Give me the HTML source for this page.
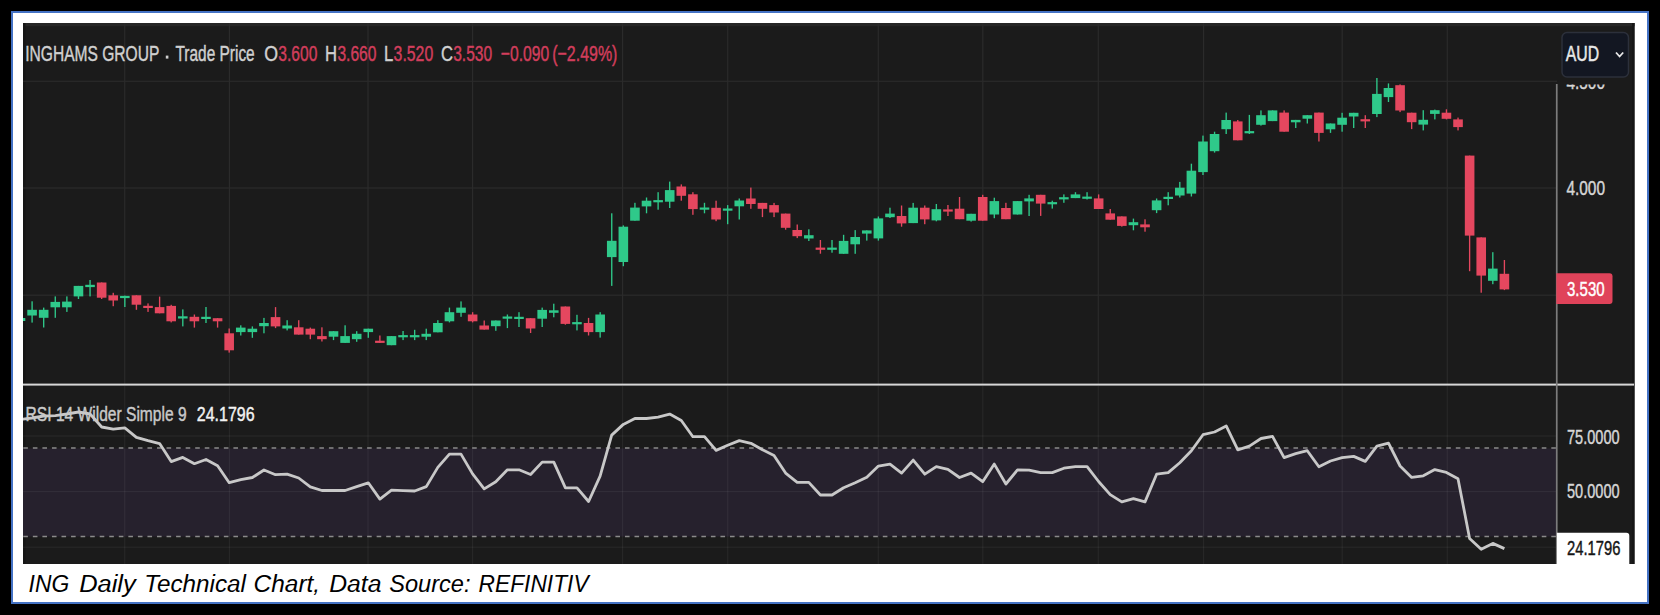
<!DOCTYPE html>
<html><head><meta charset="utf-8"><title>ING Daily Technical Chart</title>
<style>
html,body{margin:0;padding:0;background:#000;width:1660px;height:615px;overflow:hidden}
svg{position:absolute;left:0;top:0;display:block}
text{font-family:"Liberation Sans",sans-serif}
</style></head><body>
<svg width="1660" height="615" viewBox="0 0 1660 615">
<defs><clipPath id="plot"><rect x="23" y="23" width="1534" height="361"/></clipPath><clipPath id="rsi"><rect x="23" y="386" width="1534" height="178"/></clipPath><clipPath id="below83"><rect x="1557" y="84.6" width="80" height="20"/></clipPath></defs>
<rect x="0" y="0" width="1660" height="615" fill="#000"/>
<rect x="12" y="12" width="1636" height="591" fill="#fff" stroke="#4472c4" stroke-width="2"/>
<rect x="23" y="23" width="1611.5" height="541" fill="#1b1b1b"/>
<rect x="23" y="23" width="1611.5" height="3.3" fill="#262626"/>
<rect x="23" y="23" width="2.5" height="541" fill="#161616"/>
<rect x="1632" y="23" width="2.5" height="541" fill="#161616"/>
<rect x="23" y="448.4" width="1534" height="88.2" fill="#26212d"/>
<rect x="23" y="80.7" width="1534" height="1.2" fill="#2b2b2b"/>
<rect x="23" y="187.4" width="1534" height="1.2" fill="#2b2b2b"/>
<rect x="23" y="294.6" width="1534" height="1.2" fill="#2b2b2b"/>
<rect x="23" y="435.4" width="1534" height="1.2" fill="#ffffff" fill-opacity="0.055"/>
<rect x="23" y="491.0" width="1534" height="1.2" fill="#ffffff" fill-opacity="0.055"/>
<rect x="23" y="546.6" width="1534" height="1.2" fill="#ffffff" fill-opacity="0.055"/>
<rect x="124.1" y="23" width="1.2" height="361" fill="#2b2b2b"/>
<rect x="124.1" y="386" width="1.2" height="178" fill="#ffffff" fill-opacity="0.055"/>
<rect x="228.8" y="23" width="1.2" height="361" fill="#2b2b2b"/>
<rect x="228.8" y="386" width="1.2" height="178" fill="#ffffff" fill-opacity="0.055"/>
<rect x="367.4" y="23" width="1.2" height="361" fill="#2b2b2b"/>
<rect x="367.4" y="386" width="1.2" height="178" fill="#ffffff" fill-opacity="0.055"/>
<rect x="472.0" y="23" width="1.2" height="361" fill="#2b2b2b"/>
<rect x="472.0" y="386" width="1.2" height="178" fill="#ffffff" fill-opacity="0.055"/>
<rect x="622.0" y="23" width="1.2" height="361" fill="#2b2b2b"/>
<rect x="622.0" y="386" width="1.2" height="178" fill="#ffffff" fill-opacity="0.055"/>
<rect x="727.1" y="23" width="1.2" height="361" fill="#2b2b2b"/>
<rect x="727.1" y="386" width="1.2" height="178" fill="#ffffff" fill-opacity="0.055"/>
<rect x="877.7" y="23" width="1.2" height="361" fill="#2b2b2b"/>
<rect x="877.7" y="386" width="1.2" height="178" fill="#ffffff" fill-opacity="0.055"/>
<rect x="982.2" y="23" width="1.2" height="361" fill="#2b2b2b"/>
<rect x="982.2" y="386" width="1.2" height="178" fill="#ffffff" fill-opacity="0.055"/>
<rect x="1097.7" y="23" width="1.2" height="361" fill="#2b2b2b"/>
<rect x="1097.7" y="386" width="1.2" height="178" fill="#ffffff" fill-opacity="0.055"/>
<rect x="1203.0" y="23" width="1.2" height="361" fill="#2b2b2b"/>
<rect x="1203.0" y="386" width="1.2" height="178" fill="#ffffff" fill-opacity="0.055"/>
<rect x="1341.6" y="23" width="1.2" height="361" fill="#2b2b2b"/>
<rect x="1341.6" y="386" width="1.2" height="178" fill="#ffffff" fill-opacity="0.055"/>
<rect x="1446.7" y="23" width="1.2" height="361" fill="#2b2b2b"/>
<rect x="1446.7" y="386" width="1.2" height="178" fill="#ffffff" fill-opacity="0.055"/>
<line x1="23.3" y1="447.9" x2="1557" y2="447.9" stroke="#8a8a8a" stroke-width="1.5" stroke-dasharray="4.6 4.95"/>
<line x1="23.3" y1="536.6" x2="1557" y2="536.6" stroke="#8a8a8a" stroke-width="1.5" stroke-dasharray="4.6 4.95"/>
<g clip-path="url(#plot)">
<rect x="19.82" y="316.0" width="1.35" height="7.0" fill="#2fc98a"/>
<rect x="15.70" y="318.0" width="9.6" height="3.0" fill="#2fc98a"/>
<rect x="31.42" y="301.3" width="1.35" height="21.3" fill="#2fc98a"/>
<rect x="27.29" y="309.8" width="9.6" height="5.7" fill="#2fc98a"/>
<rect x="43.01" y="307.6" width="1.35" height="19.9" fill="#2fc98a"/>
<rect x="38.89" y="309.8" width="9.6" height="8.0" fill="#2fc98a"/>
<rect x="54.60" y="296.4" width="1.35" height="21.4" fill="#2fc98a"/>
<rect x="50.48" y="301.9" width="9.6" height="5.4" fill="#2fc98a"/>
<rect x="66.20" y="296.4" width="1.35" height="15.5" fill="#2fc98a"/>
<rect x="62.07" y="301.6" width="9.6" height="5.7" fill="#2fc98a"/>
<rect x="77.79" y="285.9" width="1.35" height="13.1" fill="#2fc98a"/>
<rect x="73.67" y="285.9" width="9.6" height="10.5" fill="#2fc98a"/>
<rect x="89.38" y="280.0" width="1.35" height="16.4" fill="#2fc98a"/>
<rect x="85.26" y="284.8" width="9.6" height="2.3" fill="#2fc98a"/>
<rect x="100.98" y="282.5" width="1.35" height="16.5" fill="#e5475f"/>
<rect x="96.85" y="282.5" width="9.6" height="15.2" fill="#e5475f"/>
<rect x="112.57" y="292.8" width="1.35" height="13.4" fill="#e5475f"/>
<rect x="108.44" y="295.3" width="9.6" height="5.2" fill="#e5475f"/>
<rect x="124.16" y="295.6" width="1.35" height="11.4" fill="#2fc98a"/>
<rect x="120.04" y="295.9" width="9.6" height="2.2" fill="#2fc98a"/>
<rect x="135.75" y="295.3" width="1.35" height="14.5" fill="#e5475f"/>
<rect x="131.63" y="295.3" width="9.6" height="9.4" fill="#e5475f"/>
<rect x="147.35" y="303.4" width="1.35" height="8.5" fill="#e5475f"/>
<rect x="143.22" y="305.8" width="9.6" height="2.2" fill="#e5475f"/>
<rect x="158.94" y="296.6" width="1.35" height="16.7" fill="#e5475f"/>
<rect x="154.82" y="307.1" width="9.6" height="6.2" fill="#e5475f"/>
<rect x="170.53" y="304.8" width="1.35" height="17.6" fill="#e5475f"/>
<rect x="166.41" y="305.9" width="9.6" height="15.4" fill="#e5475f"/>
<rect x="182.13" y="309.4" width="1.35" height="17.0" fill="#2fc98a"/>
<rect x="178.00" y="316.3" width="9.6" height="2.2" fill="#2fc98a"/>
<rect x="193.72" y="314.5" width="1.35" height="13.1" fill="#e5475f"/>
<rect x="189.59" y="316.8" width="9.6" height="4.5" fill="#e5475f"/>
<rect x="205.31" y="307.0" width="1.35" height="16.0" fill="#2fc98a"/>
<rect x="201.19" y="316.8" width="9.6" height="2.2" fill="#2fc98a"/>
<rect x="216.91" y="318.2" width="1.35" height="9.4" fill="#e5475f"/>
<rect x="212.78" y="318.2" width="9.6" height="3.1" fill="#e5475f"/>
<rect x="228.50" y="328.5" width="1.35" height="24.1" fill="#e5475f"/>
<rect x="224.37" y="333.3" width="9.6" height="17.0" fill="#e5475f"/>
<rect x="240.09" y="325.3" width="1.35" height="10.2" fill="#2fc98a"/>
<rect x="235.97" y="327.6" width="9.6" height="4.5" fill="#2fc98a"/>
<rect x="251.69" y="326.4" width="1.35" height="11.4" fill="#2fc98a"/>
<rect x="247.56" y="328.7" width="9.6" height="3.4" fill="#2fc98a"/>
<rect x="263.28" y="317.9" width="1.35" height="15.4" fill="#2fc98a"/>
<rect x="259.15" y="323.0" width="9.6" height="3.2" fill="#2fc98a"/>
<rect x="274.87" y="307.1" width="1.35" height="21.0" fill="#e5475f"/>
<rect x="270.75" y="317.1" width="9.6" height="9.3" fill="#e5475f"/>
<rect x="286.46" y="320.2" width="1.35" height="10.2" fill="#2fc98a"/>
<rect x="282.34" y="325.5" width="9.6" height="3.0" fill="#2fc98a"/>
<rect x="298.06" y="320.2" width="1.35" height="14.4" fill="#e5475f"/>
<rect x="293.93" y="327.3" width="9.6" height="7.3" fill="#e5475f"/>
<rect x="309.65" y="327.6" width="1.35" height="11.6" fill="#e5475f"/>
<rect x="305.52" y="328.7" width="9.6" height="5.9" fill="#e5475f"/>
<rect x="321.24" y="327.3" width="1.35" height="14.2" fill="#e5475f"/>
<rect x="317.12" y="336.1" width="9.6" height="3.1" fill="#e5475f"/>
<rect x="332.84" y="331.2" width="1.35" height="8.9" fill="#2fc98a"/>
<rect x="328.71" y="331.2" width="9.6" height="5.5" fill="#2fc98a"/>
<rect x="344.43" y="325.3" width="1.35" height="17.6" fill="#2fc98a"/>
<rect x="340.30" y="336.1" width="9.6" height="6.8" fill="#2fc98a"/>
<rect x="356.02" y="331.2" width="1.35" height="10.6" fill="#2fc98a"/>
<rect x="351.90" y="333.8" width="9.6" height="5.4" fill="#2fc98a"/>
<rect x="367.62" y="328.7" width="1.35" height="9.1" fill="#2fc98a"/>
<rect x="363.49" y="328.7" width="9.6" height="3.4" fill="#2fc98a"/>
<rect x="379.21" y="335.5" width="1.35" height="7.4" fill="#e5475f"/>
<rect x="375.08" y="340.7" width="9.6" height="2.2" fill="#e5475f"/>
<rect x="390.80" y="336.1" width="1.35" height="9.1" fill="#2fc98a"/>
<rect x="386.68" y="336.1" width="9.6" height="9.1" fill="#2fc98a"/>
<rect x="402.39" y="331.0" width="1.35" height="9.1" fill="#2fc98a"/>
<rect x="398.27" y="335.1" width="9.6" height="2.2" fill="#2fc98a"/>
<rect x="413.99" y="329.8" width="1.35" height="10.3" fill="#2fc98a"/>
<rect x="409.86" y="335.1" width="9.6" height="2.2" fill="#2fc98a"/>
<rect x="425.58" y="328.7" width="1.35" height="11.4" fill="#2fc98a"/>
<rect x="421.45" y="333.8" width="9.6" height="2.9" fill="#2fc98a"/>
<rect x="437.17" y="320.2" width="1.35" height="12.1" fill="#2fc98a"/>
<rect x="433.05" y="323.0" width="9.6" height="9.3" fill="#2fc98a"/>
<rect x="448.77" y="307.6" width="1.35" height="14.8" fill="#2fc98a"/>
<rect x="444.64" y="312.2" width="9.6" height="9.1" fill="#2fc98a"/>
<rect x="460.36" y="301.4" width="1.35" height="15.4" fill="#2fc98a"/>
<rect x="456.23" y="307.6" width="9.6" height="5.2" fill="#2fc98a"/>
<rect x="471.95" y="312.2" width="1.35" height="10.2" fill="#e5475f"/>
<rect x="467.83" y="314.5" width="9.6" height="6.8" fill="#e5475f"/>
<rect x="483.55" y="320.5" width="1.35" height="9.1" fill="#e5475f"/>
<rect x="479.42" y="325.5" width="9.6" height="4.1" fill="#e5475f"/>
<rect x="495.14" y="320.5" width="1.35" height="10.3" fill="#2fc98a"/>
<rect x="491.01" y="320.5" width="9.6" height="5.7" fill="#2fc98a"/>
<rect x="506.73" y="314.5" width="1.35" height="13.6" fill="#2fc98a"/>
<rect x="502.61" y="316.5" width="9.6" height="2.2" fill="#2fc98a"/>
<rect x="518.32" y="312.2" width="1.35" height="14.8" fill="#2fc98a"/>
<rect x="514.20" y="316.8" width="9.6" height="2.2" fill="#2fc98a"/>
<rect x="529.92" y="318.2" width="1.35" height="14.8" fill="#e5475f"/>
<rect x="525.79" y="318.2" width="9.6" height="10.3" fill="#e5475f"/>
<rect x="541.51" y="307.6" width="1.35" height="19.4" fill="#2fc98a"/>
<rect x="537.38" y="309.9" width="9.6" height="8.8" fill="#2fc98a"/>
<rect x="553.10" y="303.7" width="1.35" height="13.6" fill="#2fc98a"/>
<rect x="548.98" y="310.3" width="9.6" height="2.5" fill="#2fc98a"/>
<rect x="564.70" y="306.5" width="1.35" height="18.2" fill="#e5475f"/>
<rect x="560.57" y="306.5" width="9.6" height="17.4" fill="#e5475f"/>
<rect x="576.29" y="314.8" width="1.35" height="15.6" fill="#2fc98a"/>
<rect x="572.16" y="322.1" width="9.6" height="2.2" fill="#2fc98a"/>
<rect x="587.88" y="317.9" width="1.35" height="17.6" fill="#e5475f"/>
<rect x="583.76" y="323.0" width="9.6" height="9.1" fill="#e5475f"/>
<rect x="599.48" y="312.2" width="1.35" height="25.4" fill="#2fc98a"/>
<rect x="595.35" y="314.5" width="9.6" height="17.6" fill="#2fc98a"/>
<rect x="611.07" y="213.3" width="1.35" height="72.6" fill="#2fc98a"/>
<rect x="606.94" y="240.8" width="9.6" height="16.3" fill="#2fc98a"/>
<rect x="622.66" y="225.4" width="1.35" height="40.8" fill="#2fc98a"/>
<rect x="618.54" y="226.7" width="9.6" height="35.3" fill="#2fc98a"/>
<rect x="634.25" y="202.8" width="1.35" height="17.9" fill="#2fc98a"/>
<rect x="630.13" y="207.6" width="9.6" height="13.1" fill="#2fc98a"/>
<rect x="645.85" y="197.5" width="1.35" height="15.8" fill="#2fc98a"/>
<rect x="641.72" y="200.7" width="9.6" height="5.7" fill="#2fc98a"/>
<rect x="657.44" y="192.2" width="1.35" height="17.5" fill="#2fc98a"/>
<rect x="653.32" y="200.1" width="9.6" height="2.2" fill="#2fc98a"/>
<rect x="669.03" y="181.6" width="1.35" height="26.4" fill="#2fc98a"/>
<rect x="664.91" y="190.1" width="9.6" height="11.6" fill="#2fc98a"/>
<rect x="680.63" y="184.4" width="1.35" height="16.3" fill="#e5475f"/>
<rect x="676.50" y="186.5" width="9.6" height="9.3" fill="#e5475f"/>
<rect x="692.22" y="192.2" width="1.35" height="22.6" fill="#e5475f"/>
<rect x="688.09" y="194.3" width="9.6" height="14.8" fill="#e5475f"/>
<rect x="703.81" y="202.8" width="1.35" height="10.5" fill="#2fc98a"/>
<rect x="699.69" y="207.5" width="9.6" height="2.2" fill="#2fc98a"/>
<rect x="715.41" y="200.7" width="1.35" height="20.5" fill="#e5475f"/>
<rect x="711.28" y="207.8" width="9.6" height="11.7" fill="#e5475f"/>
<rect x="727.00" y="205.1" width="1.35" height="19.1" fill="#2fc98a"/>
<rect x="722.87" y="208.5" width="9.6" height="2.2" fill="#2fc98a"/>
<rect x="738.59" y="198.5" width="1.35" height="21.0" fill="#2fc98a"/>
<rect x="734.47" y="200.5" width="9.6" height="5.8" fill="#2fc98a"/>
<rect x="750.18" y="187.6" width="1.35" height="21.2" fill="#e5475f"/>
<rect x="746.06" y="198.5" width="9.6" height="5.5" fill="#e5475f"/>
<rect x="761.78" y="202.9" width="1.35" height="14.2" fill="#e5475f"/>
<rect x="757.65" y="202.9" width="9.6" height="5.9" fill="#e5475f"/>
<rect x="773.37" y="202.9" width="1.35" height="14.2" fill="#e5475f"/>
<rect x="769.25" y="205.1" width="9.6" height="7.4" fill="#e5475f"/>
<rect x="784.96" y="213.6" width="1.35" height="16.1" fill="#e5475f"/>
<rect x="780.84" y="213.6" width="9.6" height="14.2" fill="#e5475f"/>
<rect x="796.56" y="224.5" width="1.35" height="13.6" fill="#e5475f"/>
<rect x="792.43" y="230.0" width="9.6" height="6.2" fill="#e5475f"/>
<rect x="808.15" y="229.3" width="1.35" height="11.7" fill="#2fc98a"/>
<rect x="804.02" y="235.2" width="9.6" height="3.3" fill="#2fc98a"/>
<rect x="819.74" y="240.0" width="1.35" height="13.7" fill="#e5475f"/>
<rect x="815.62" y="247.6" width="9.6" height="2.2" fill="#e5475f"/>
<rect x="831.34" y="240.0" width="1.35" height="12.7" fill="#2fc98a"/>
<rect x="827.21" y="247.6" width="9.6" height="2.2" fill="#2fc98a"/>
<rect x="842.93" y="234.8" width="1.35" height="19.0" fill="#2fc98a"/>
<rect x="838.80" y="240.9" width="9.6" height="12.9" fill="#2fc98a"/>
<rect x="854.52" y="230.1" width="1.35" height="23.7" fill="#2fc98a"/>
<rect x="850.40" y="237.0" width="9.6" height="7.3" fill="#2fc98a"/>
<rect x="866.11" y="230.4" width="1.35" height="10.2" fill="#2fc98a"/>
<rect x="861.99" y="230.4" width="9.6" height="3.2" fill="#2fc98a"/>
<rect x="877.71" y="216.5" width="1.35" height="24.1" fill="#2fc98a"/>
<rect x="873.58" y="218.4" width="9.6" height="20.0" fill="#2fc98a"/>
<rect x="889.30" y="207.7" width="1.35" height="10.3" fill="#2fc98a"/>
<rect x="885.18" y="213.6" width="9.6" height="3.6" fill="#2fc98a"/>
<rect x="900.89" y="205.5" width="1.35" height="21.2" fill="#e5475f"/>
<rect x="896.77" y="216.0" width="9.6" height="7.4" fill="#e5475f"/>
<rect x="912.49" y="202.9" width="1.35" height="20.2" fill="#2fc98a"/>
<rect x="908.36" y="207.7" width="9.6" height="15.4" fill="#2fc98a"/>
<rect x="924.08" y="205.5" width="1.35" height="18.7" fill="#e5475f"/>
<rect x="919.95" y="207.7" width="9.6" height="11.7" fill="#e5475f"/>
<rect x="935.67" y="204.0" width="1.35" height="17.3" fill="#2fc98a"/>
<rect x="931.55" y="209.2" width="9.6" height="11.2" fill="#2fc98a"/>
<rect x="947.27" y="205.0" width="1.35" height="11.0" fill="#e5475f"/>
<rect x="943.14" y="209.4" width="9.6" height="2.2" fill="#e5475f"/>
<rect x="958.86" y="197.0" width="1.35" height="22.2" fill="#e5475f"/>
<rect x="954.73" y="208.7" width="9.6" height="10.5" fill="#e5475f"/>
<rect x="970.45" y="213.8" width="1.35" height="7.8" fill="#2fc98a"/>
<rect x="966.33" y="213.8" width="9.6" height="6.9" fill="#2fc98a"/>
<rect x="982.04" y="194.8" width="1.35" height="25.9" fill="#e5475f"/>
<rect x="977.92" y="197.0" width="9.6" height="23.7" fill="#e5475f"/>
<rect x="993.64" y="197.7" width="1.35" height="20.5" fill="#2fc98a"/>
<rect x="989.51" y="201.1" width="9.6" height="13.4" fill="#2fc98a"/>
<rect x="1005.23" y="202.8" width="1.35" height="16.4" fill="#e5475f"/>
<rect x="1001.11" y="208.0" width="9.6" height="11.2" fill="#e5475f"/>
<rect x="1016.82" y="201.1" width="1.35" height="13.4" fill="#2fc98a"/>
<rect x="1012.70" y="201.1" width="9.6" height="13.4" fill="#2fc98a"/>
<rect x="1028.42" y="194.8" width="1.35" height="21.2" fill="#2fc98a"/>
<rect x="1024.29" y="198.4" width="9.6" height="3.0" fill="#2fc98a"/>
<rect x="1040.01" y="194.8" width="1.35" height="21.1" fill="#e5475f"/>
<rect x="1035.88" y="194.8" width="9.6" height="8.8" fill="#e5475f"/>
<rect x="1051.60" y="200.7" width="1.35" height="7.9" fill="#2fc98a"/>
<rect x="1047.48" y="202.1" width="9.6" height="2.2" fill="#2fc98a"/>
<rect x="1063.19" y="194.4" width="1.35" height="8.4" fill="#2fc98a"/>
<rect x="1059.07" y="197.2" width="9.6" height="2.2" fill="#2fc98a"/>
<rect x="1074.79" y="192.2" width="1.35" height="5.9" fill="#2fc98a"/>
<rect x="1070.66" y="194.4" width="9.6" height="3.7" fill="#2fc98a"/>
<rect x="1086.38" y="192.2" width="1.35" height="7.3" fill="#2fc98a"/>
<rect x="1082.26" y="196.6" width="9.6" height="2.2" fill="#2fc98a"/>
<rect x="1097.97" y="194.4" width="1.35" height="14.6" fill="#e5475f"/>
<rect x="1093.85" y="198.4" width="9.6" height="10.6" fill="#e5475f"/>
<rect x="1109.57" y="209.0" width="1.35" height="10.7" fill="#e5475f"/>
<rect x="1105.44" y="213.4" width="9.6" height="6.3" fill="#e5475f"/>
<rect x="1121.16" y="216.4" width="1.35" height="10.2" fill="#e5475f"/>
<rect x="1117.04" y="216.4" width="9.6" height="9.5" fill="#e5475f"/>
<rect x="1132.75" y="218.6" width="1.35" height="11.7" fill="#2fc98a"/>
<rect x="1128.63" y="222.2" width="9.6" height="3.0" fill="#2fc98a"/>
<rect x="1144.35" y="219.3" width="1.35" height="12.4" fill="#e5475f"/>
<rect x="1140.22" y="224.4" width="9.6" height="2.9" fill="#e5475f"/>
<rect x="1155.94" y="198.5" width="1.35" height="14.6" fill="#2fc98a"/>
<rect x="1151.81" y="200.4" width="9.6" height="9.8" fill="#2fc98a"/>
<rect x="1167.53" y="192.2" width="1.35" height="13.1" fill="#2fc98a"/>
<rect x="1163.41" y="196.8" width="9.6" height="2.2" fill="#2fc98a"/>
<rect x="1179.12" y="181.9" width="1.35" height="15.6" fill="#2fc98a"/>
<rect x="1175.00" y="187.7" width="9.6" height="7.8" fill="#2fc98a"/>
<rect x="1190.72" y="163.7" width="1.35" height="32.8" fill="#2fc98a"/>
<rect x="1186.59" y="170.7" width="9.6" height="22.9" fill="#2fc98a"/>
<rect x="1202.31" y="135.6" width="1.35" height="39.4" fill="#2fc98a"/>
<rect x="1198.19" y="141.5" width="9.6" height="30.6" fill="#2fc98a"/>
<rect x="1213.90" y="131.7" width="1.35" height="20.9" fill="#2fc98a"/>
<rect x="1209.78" y="134.0" width="9.6" height="17.2" fill="#2fc98a"/>
<rect x="1225.50" y="112.6" width="1.35" height="21.4" fill="#2fc98a"/>
<rect x="1221.37" y="120.0" width="9.6" height="9.2" fill="#2fc98a"/>
<rect x="1237.09" y="120.0" width="1.35" height="20.3" fill="#e5475f"/>
<rect x="1232.97" y="121.4" width="9.6" height="18.9" fill="#e5475f"/>
<rect x="1248.68" y="114.9" width="1.35" height="19.1" fill="#2fc98a"/>
<rect x="1244.56" y="131.1" width="9.6" height="2.2" fill="#2fc98a"/>
<rect x="1260.28" y="110.4" width="1.35" height="15.2" fill="#2fc98a"/>
<rect x="1256.15" y="115.2" width="9.6" height="9.6" fill="#2fc98a"/>
<rect x="1271.87" y="110.4" width="1.35" height="10.7" fill="#2fc98a"/>
<rect x="1267.74" y="110.4" width="9.6" height="10.7" fill="#2fc98a"/>
<rect x="1283.46" y="110.4" width="1.35" height="21.3" fill="#e5475f"/>
<rect x="1279.34" y="112.6" width="9.6" height="19.1" fill="#e5475f"/>
<rect x="1295.06" y="119.9" width="1.35" height="8.1" fill="#2fc98a"/>
<rect x="1290.93" y="119.9" width="9.6" height="2.4" fill="#2fc98a"/>
<rect x="1306.65" y="115.2" width="1.35" height="8.3" fill="#2fc98a"/>
<rect x="1302.52" y="115.2" width="9.6" height="3.5" fill="#2fc98a"/>
<rect x="1318.24" y="112.6" width="1.35" height="28.9" fill="#e5475f"/>
<rect x="1314.12" y="112.6" width="9.6" height="20.3" fill="#e5475f"/>
<rect x="1329.83" y="123.5" width="1.35" height="9.4" fill="#2fc98a"/>
<rect x="1325.71" y="123.5" width="9.6" height="5.8" fill="#2fc98a"/>
<rect x="1341.43" y="112.8" width="1.35" height="18.9" fill="#2fc98a"/>
<rect x="1337.30" y="117.7" width="9.6" height="7.1" fill="#2fc98a"/>
<rect x="1353.02" y="112.8" width="1.35" height="15.2" fill="#2fc98a"/>
<rect x="1348.89" y="112.8" width="9.6" height="3.7" fill="#2fc98a"/>
<rect x="1364.61" y="115.2" width="1.35" height="12.8" fill="#e5475f"/>
<rect x="1360.49" y="119.2" width="9.6" height="2.2" fill="#e5475f"/>
<rect x="1376.21" y="78.0" width="1.35" height="39.1" fill="#2fc98a"/>
<rect x="1372.08" y="93.9" width="9.6" height="20.1" fill="#2fc98a"/>
<rect x="1387.80" y="83.4" width="1.35" height="18.6" fill="#2fc98a"/>
<rect x="1383.67" y="88.0" width="9.6" height="9.1" fill="#2fc98a"/>
<rect x="1399.39" y="84.4" width="1.35" height="27.7" fill="#e5475f"/>
<rect x="1395.27" y="85.2" width="9.6" height="25.3" fill="#e5475f"/>
<rect x="1410.99" y="112.7" width="1.35" height="16.4" fill="#e5475f"/>
<rect x="1406.86" y="112.7" width="9.6" height="9.5" fill="#e5475f"/>
<rect x="1422.58" y="110.2" width="1.35" height="20.2" fill="#2fc98a"/>
<rect x="1418.45" y="119.8" width="9.6" height="4.8" fill="#2fc98a"/>
<rect x="1434.17" y="109.6" width="1.35" height="9.8" fill="#2fc98a"/>
<rect x="1430.05" y="110.2" width="9.6" height="3.7" fill="#2fc98a"/>
<rect x="1445.76" y="109.3" width="1.35" height="10.1" fill="#e5475f"/>
<rect x="1441.64" y="112.7" width="9.6" height="6.1" fill="#e5475f"/>
<rect x="1457.36" y="117.6" width="1.35" height="12.8" fill="#e5475f"/>
<rect x="1453.23" y="119.4" width="9.6" height="7.7" fill="#e5475f"/>
<rect x="1468.95" y="155.6" width="1.35" height="115.6" fill="#e5475f"/>
<rect x="1464.83" y="155.6" width="9.6" height="80.0" fill="#e5475f"/>
<rect x="1480.54" y="237.4" width="1.35" height="55.3" fill="#e5475f"/>
<rect x="1476.42" y="237.4" width="9.6" height="38.2" fill="#e5475f"/>
<rect x="1492.14" y="252.2" width="1.35" height="32.0" fill="#2fc98a"/>
<rect x="1488.01" y="268.6" width="9.6" height="12.2" fill="#2fc98a"/>
<rect x="1503.73" y="260.0" width="1.35" height="30.1" fill="#e5475f"/>
<rect x="1499.60" y="273.8" width="9.6" height="15.6" fill="#e5475f"/>
</g>
<g clip-path="url(#rsi)"><polyline points="20.5,419.5 32.1,418.0 43.7,416.0 55.3,415.6 66.9,414.0 78.5,412.0 90.1,414.0 101.7,427.0 113.2,429.2 124.8,427.8 136.4,437.3 148.0,440.7 159.6,443.6 171.2,461.6 182.8,457.4 194.4,463.7 206.0,459.5 217.6,465.8 229.2,482.7 240.8,479.6 252.4,477.5 264.0,470.0 275.5,474.7 287.1,474.2 298.7,478.0 310.3,486.9 321.9,490.5 333.5,490.5 345.1,490.5 356.7,486.7 368.3,482.8 379.9,499.1 391.5,490.2 403.1,490.6 414.7,491.0 426.3,486.6 437.8,467.4 449.4,454.1 461.0,454.1 472.6,473.9 484.2,488.9 495.8,481.7 507.4,469.8 519.0,469.8 530.6,474.5 542.2,462.1 553.8,462.1 565.4,487.8 577.0,487.8 588.6,501.5 600.1,476.1 611.7,435.1 623.3,424.4 634.9,418.5 646.5,418.5 658.1,417.2 669.7,414.1 681.3,420.5 692.9,436.7 704.5,436.7 716.1,450.4 727.7,445.3 739.3,440.6 750.9,443.3 762.5,449.8 774.0,455.4 785.6,473.1 797.2,482.4 808.8,482.4 820.4,495.0 832.0,495.0 843.6,487.7 855.2,482.8 866.8,477.2 878.4,466.1 890.0,464.1 901.6,473.1 913.2,460.1 924.8,474.2 936.3,466.6 947.9,469.3 959.5,477.5 971.1,473.1 982.7,481.7 994.3,464.1 1005.9,484.0 1017.5,469.8 1029.1,470.2 1040.7,472.6 1052.3,472.6 1063.9,468.2 1075.5,466.6 1087.1,466.6 1098.6,481.5 1110.2,494.6 1121.8,501.9 1133.4,498.6 1145.0,501.9 1156.6,474.2 1168.2,472.6 1179.8,462.8 1191.4,450.7 1203.0,434.7 1214.6,432.0 1226.2,425.9 1237.8,449.8 1249.4,446.1 1261.0,438.5 1272.5,436.4 1284.1,457.6 1295.7,453.7 1307.3,450.7 1318.9,466.7 1330.5,461.0 1342.1,457.6 1353.7,456.4 1365.3,461.4 1376.9,446.2 1388.5,443.2 1400.1,466.0 1411.7,477.4 1423.3,475.8 1434.8,469.6 1446.4,472.4 1458.0,478.7 1469.6,538.4 1481.2,549.3 1492.8,543.4 1504.4,548.6" fill="none" stroke="#c8c8c8" stroke-width="2.8" stroke-linejoin="round"/></g>
<rect x="23" y="383.6" width="1611" height="2" fill="#d8d8d8"/>
<rect x="1555.9" y="84" width="1.7" height="480" fill="#7c7c7c"/>
<text x="1566.4" y="195.2" font-size="20.5" fill="#d6d6d6" stroke="#d6d6d6" stroke-width="0.45" textLength="38.6" lengthAdjust="spacingAndGlyphs" >4.000</text>
<text x="1566.4" y="88.7" font-size="20.5" fill="#d6d6d6" stroke="#d6d6d6" stroke-width="0.45" textLength="38.6" lengthAdjust="spacingAndGlyphs" clip-path="url(#below83)">4.500</text>
<path d="M1556.3 273.3 H1609.5 Q1612.5 273.3 1612.5 276.3 V301 Q1612.5 304 1609.5 304 H1556.3 Z" fill="#e0435a"/>
<text x="1567" y="296.2" font-size="20.5" fill="#ffffff" stroke="#ffffff" stroke-width="0.45" textLength="37.6" lengthAdjust="spacingAndGlyphs" >3.530</text>
<text x="1567" y="443.7" font-size="20.8" fill="#d6d6d6" stroke="#d6d6d6" stroke-width="0.45" textLength="52.6" lengthAdjust="spacingAndGlyphs" >75.0000</text>
<text x="1567" y="498.3" font-size="20.8" fill="#d6d6d6" stroke="#d6d6d6" stroke-width="0.45" textLength="52.6" lengthAdjust="spacingAndGlyphs" >50.0000</text>
<path d="M1556.9 532.7 H1626.3 Q1629.3 532.7 1629.3 535.7 V564 H1556.9 Z" fill="#ffffff"/>
<text x="1567" y="555" font-size="20.8" fill="#151515" stroke="#151515" stroke-width="0.45" textLength="53.4" lengthAdjust="spacingAndGlyphs" >24.1796</text>
<rect x="1562" y="32.5" width="66.5" height="44.5" rx="5" fill="#131722" stroke="#2c303b" stroke-width="1.5"/>
<text x="1565.8" y="61.4" font-size="21.5" fill="#e8e8e8" stroke="#e8e8e8" stroke-width="0.45" textLength="33.4" lengthAdjust="spacingAndGlyphs" >AUD</text>
<path d="M1616 52.5 L1619.6 56.5 L1623.2 52.5" fill="none" stroke="#e8e8e8" stroke-width="1.8"/>
<text x="25.2" y="60.8" font-size="22.5" fill="#d0d0d0" stroke="#d0d0d0" stroke-width="0.45" textLength="134.2" lengthAdjust="spacingAndGlyphs" >INGHAMS GROUP</text>
<rect x="165.8" y="55.6" width="2.6" height="3" fill="#d0d0d0"/>
<text x="175.5" y="60.8" font-size="22.5" fill="#d0d0d0" stroke="#d0d0d0" stroke-width="0.45" textLength="79.2" lengthAdjust="spacingAndGlyphs" >Trade Price</text>
<text x="264.2" y="60.8" font-size="22.5" fill="#d0d0d0" stroke="#d0d0d0" stroke-width="0.45" textLength="13.8" lengthAdjust="spacingAndGlyphs" >O</text>
<text x="278.3" y="60.8" font-size="22.5" fill="#d23e5c" stroke="#d23e5c" stroke-width="0.45" textLength="39" lengthAdjust="spacingAndGlyphs" >3.600</text>
<text x="325" y="60.8" font-size="22.5" fill="#d0d0d0" stroke="#d0d0d0" stroke-width="0.45" textLength="12" lengthAdjust="spacingAndGlyphs" >H</text>
<text x="337.4" y="60.8" font-size="22.5" fill="#d23e5c" stroke="#d23e5c" stroke-width="0.45" textLength="39" lengthAdjust="spacingAndGlyphs" >3.660</text>
<text x="384" y="60.8" font-size="22.5" fill="#d0d0d0" stroke="#d0d0d0" stroke-width="0.45" textLength="9.2" lengthAdjust="spacingAndGlyphs" >L</text>
<text x="393.6" y="60.8" font-size="22.5" fill="#d23e5c" stroke="#d23e5c" stroke-width="0.45" textLength="39.6" lengthAdjust="spacingAndGlyphs" >3.520</text>
<text x="441" y="60.8" font-size="22.5" fill="#d0d0d0" stroke="#d0d0d0" stroke-width="0.45" textLength="12" lengthAdjust="spacingAndGlyphs" >C</text>
<text x="453.2" y="60.8" font-size="22.5" fill="#d23e5c" stroke="#d23e5c" stroke-width="0.45" textLength="39" lengthAdjust="spacingAndGlyphs" >3.530</text>
<text x="500.8" y="60.8" font-size="22.5" fill="#d23e5c" stroke="#d23e5c" stroke-width="0.45" textLength="48.4" lengthAdjust="spacingAndGlyphs" >−0.090</text>
<text x="552.2" y="60.8" font-size="22.5" fill="#d23e5c" stroke="#d23e5c" stroke-width="0.45" textLength="65.2" lengthAdjust="spacingAndGlyphs" >(−2.49%)</text>
<text x="25.6" y="421" font-size="20.8" fill="#c9c9c9" stroke="#c9c9c9" stroke-width="0.45" textLength="161" lengthAdjust="spacingAndGlyphs" >RSI 14 Wilder Simple 9</text>
<text x="196.8" y="421" font-size="20.8" fill="#f2f2f2" stroke="#f2f2f2" stroke-width="0.45" textLength="57.8" lengthAdjust="spacingAndGlyphs" >24.1796</text>
<text x="28.6" y="592.0" font-size="23.5" fill="#000000" textLength="40.6" lengthAdjust="spacingAndGlyphs" font-style="italic">ING</text>
<text x="79.2" y="592.0" font-size="23.5" fill="#000000" textLength="56.5" lengthAdjust="spacingAndGlyphs" font-style="italic">Daily</text>
<text x="144.3" y="592.0" font-size="23.5" fill="#000000" textLength="101.6" lengthAdjust="spacingAndGlyphs" font-style="italic">Technical</text>
<text x="253.6" y="592.0" font-size="23.5" fill="#000000" textLength="66.5" lengthAdjust="spacingAndGlyphs" font-style="italic">Chart,</text>
<text x="329.2" y="592.0" font-size="23.5" fill="#000000" textLength="52.2" lengthAdjust="spacingAndGlyphs" font-style="italic">Data</text>
<text x="389.2" y="592.0" font-size="23.5" fill="#000000" textLength="81.3" lengthAdjust="spacingAndGlyphs" font-style="italic">Source:</text>
<text x="478.6" y="592.0" font-size="23.5" fill="#000000" textLength="110" lengthAdjust="spacingAndGlyphs" font-style="italic">REFINITIV</text>
</svg>
</body></html>
